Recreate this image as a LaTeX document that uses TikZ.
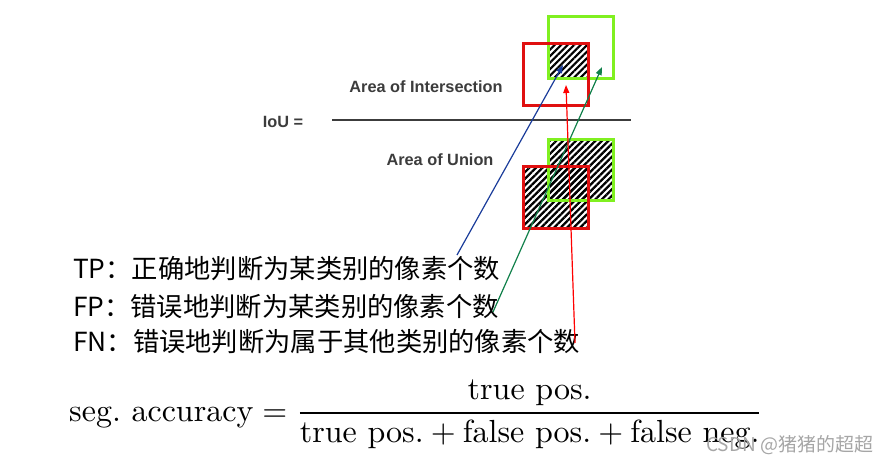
\documentclass[tikz,border=0pt]{standalone}
\usepackage{amsmath}
\usepackage{graphicx}
\usepackage{fontspec}
\newfontfamily\cjk{Noto Sans CJK SC}
\newfontfamily\arial{Liberation Sans}
\usepackage{tikz}
\usetikzlibrary{arrows.meta,patterns.meta}
\definecolor{boxred}{HTML}{E01010}
\definecolor{boxgreen}{HTML}{80F020}
\definecolor{tparrow}{HTML}{1A3C9A}
\definecolor{fparrow}{HTML}{10804A}
\definecolor{fnarrow}{HTML}{FF0000}
\definecolor{labelgray}{HTML}{3C3C3C}
\tikzset{>/.tip={Triangle[length=8pt,width=6pt]},
  hatch/.style={pattern={Lines[angle=45,distance=4.6pt,line width=2.2pt]},pattern color=black},
  boxline/.style={line width=3pt},
  iou/.style={font=\arial\bfseries\fontsize{16.3}{19}\selectfont,text=labelgray,inner sep=0pt},
  caseline/.style={font=\cjk\fontsize{26.3}{30}\selectfont,anchor=west,inner sep=0pt}}

\begin{document}
\begin{tikzpicture}[x=1pt,y=-1pt]
\useasboundingbox (0,0) rectangle (892,463);
% IoU fraction
\node[iou] (iou) at (283,122) {IoU =};
\node[iou] (inter) at (426,87) {Area of Intersection};
\node[iou] (union) at (440,160) {Area of Union};
\draw[line width=1.5pt,labelgray] (332,120) -- (631,120);

% boxes
\fill[hatch] (548,43) rectangle (588,78);
\draw[boxline,boxgreen] (548,16) rectangle (613,78);
\draw[boxline,boxred] (523,43) rectangle (588,105);
\fill[hatch] (548,139) rectangle (613,200);
\fill[hatch] (523,166) rectangle (588,228);
\draw[boxline,boxgreen] (548,139) rectangle (613,200);
\draw[boxline,boxred] (523,166) rectangle (588,228);

% cases
\node[caseline] (tp) at (73,269) {TP：正确地判断为某类别的像素个数};
\node[caseline] (fp) at (73,307) {FP：错误地判断为某类别的像素个数};
\node[caseline] (fn) at (73,342) {FN：错误地判断为属于其他类别的像素个数};

\coordinate (tpfoot) at (457,255);
\coordinate (tphead) at (563,65);
\coordinate (fpfoot) at (493,312);
\coordinate (fphead) at (602,67);
\coordinate (fnfoot) at (575,343);
\coordinate (fnhead) at (566,85);
\draw[->,tparrow,line width=1.2pt] (tpfoot) -- (tphead);
\draw[->,fparrow,line width=1.2pt] (fpfoot) -- (fphead);
\draw[->,fnarrow,line width=1.2pt] (fnfoot) -- (fnhead);

% accuracy
\node[anchor=base west,inner sep=0pt] (acc) at (69,421) {\scalebox{3.2}{%
  $\text{seg.\ accuracy} = \dfrac{\text{true pos.}}{\text{true pos.} + \text{false pos.} + \text{false neg.}}$}};
\node[font=\cjk\fontsize{19}{21}\selectfont,text=gray!70,anchor=west,inner sep=0pt] (mark) at (706,445) {CSDN @猪猪的超超};
\end{tikzpicture}
\end{document}
